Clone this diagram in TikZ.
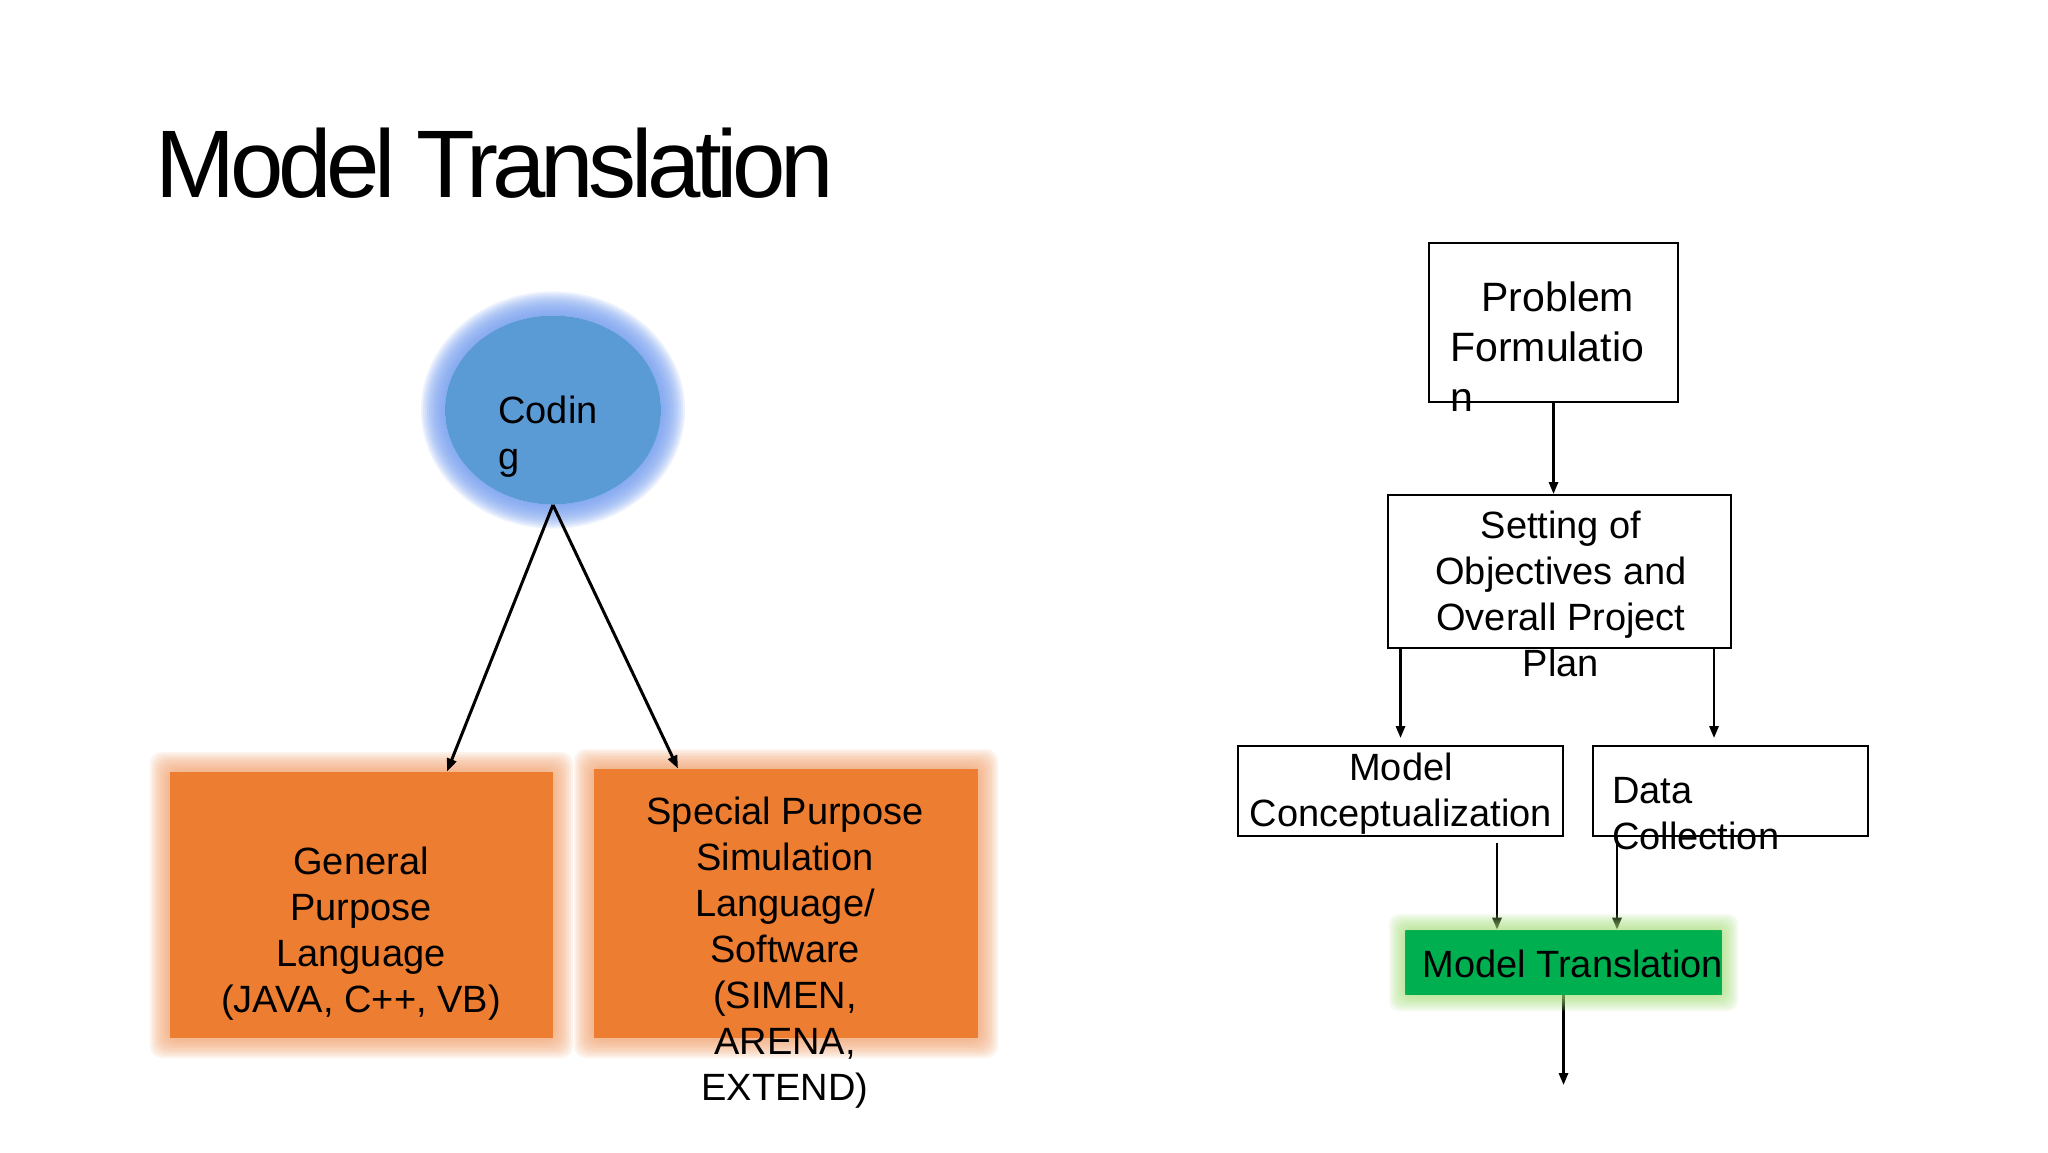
\documentclass[tikz,border=0pt]{standalone}
\usepackage{fontspec}
\setmainfont{Liberation Sans}
\newfontfamily\titlefont{Liberation Sans}[LetterSpace=-5.6]
\usetikzlibrary{shapes.geometric,arrows.meta,calc}
\definecolor{codblue}{HTML}{5B9BD5}
\definecolor{blueglow}{HTML}{7AA2F2}
\definecolor{orng}{HTML}{ED7D31}
\definecolor{orangeglow}{HTML}{F3A36E}
\definecolor{grn}{HTML}{00B050}
\definecolor{greenglow}{HTML}{A6DF78}
\begin{document}
\begin{tikzpicture}[x=0.5pt,y=-0.5pt,
  txt/.style={inner sep=0pt, font=\fontsize{19}{23}\selectfont},
  flowbox/.style={draw=black, line width=1pt, fill=white, inner sep=0pt},
  colbox/.style={inner sep=0pt, draw=none},
  arrA/.style={line width=1.5pt, -{Triangle[length=6.5pt,width=4.8pt]}},
  arrB/.style={line width=1.2pt, -{Triangle[length=6pt,width=4.6pt]}}]
\useasboundingbox[fill=white] (0,0) rectangle (2048,1152);

% title
\node[anchor=base west, inner sep=0pt, font=\titlefont\fontsize{48}{58}\selectfont] (title) at (155,197) {Model Translation};

% glows (blue, orange)
\foreach \gl in {2,4,...,24}{
  \fill[blueglow, opacity=0.15, even odd rule] (553,410) ellipse [x radius={54pt+\gl*0.5pt}, y radius={47.25pt+\gl*0.5pt}] (553,410) ellipse [x radius=54pt, y radius=47.25pt];
}
\foreach \gl in {2,4,...,20}{
  \fill[orangeglow, opacity=0.12, even odd rule] [rounded corners=6pt] ({170-\gl},{772-\gl}) rectangle ({553+\gl},{1038+\gl}) [sharp corners] (170,772) rectangle (553,1038);
  \fill[orangeglow, opacity=0.12, even odd rule] [rounded corners=6pt] ({594-\gl},{769-\gl}) rectangle ({978+\gl},{1038+\gl}) [sharp corners] (594,769) rectangle (978,1038);
}

% left diagram
\node[ellipse, fill=codblue, minimum width=108pt, minimum height=94.5pt, inner sep=0pt] (coding) at (553,410) {};
\node[txt, anchor=north west, align=left] (codingtxt) at (498,396) {Codin\\g};

\node[colbox, fill=orng, minimum width=191.5pt, minimum height=133pt] (gpl) at (361.5,905) {};
\node[colbox, fill=orng, minimum width=192pt, minimum height=134.5pt] (spl) at (786,903.5) {};
\node[txt, anchor=north, align=center] (gpltxt) at (361,847) {General\\Purpose\\Language\\(JAVA, C++, VB)};
\node[txt, anchor=north, align=center] (spltxt) at (785,797) {Special Purpose\\Simulation\\Language/\\Software\\(SIMEN,\\ARENA,\\EXTEND)};

\draw[arrA] (coding.south) -- ([xshift=42.75pt]gpl.north);
\draw[arrA] (coding.south) -- ([xshift=-54pt]spl.north);

% right diagram
\node[flowbox, minimum width=124.5pt, minimum height=79.5pt] (pf) at (1553.5,322.5) {};
\node[flowbox, minimum width=171.5pt, minimum height=76.5pt] (sop) at (1559.5,571.5) {};
\node[flowbox, minimum width=162.5pt, minimum height=45pt] (mc) at (1400.5,791) {};
\node[flowbox, minimum width=137.5pt, minimum height=45pt] (dc) at (1730.5,791) {};
\node[colbox, fill=grn, minimum width=158.5pt, minimum height=32.5pt] (mt) at (1563.5,962.5) {};
\coordinate (mtout) at (1563.5,1085);

\node[anchor=north west, align=left, inner sep=0pt, font=\fontsize{20.5}{25}\selectfont] (pftxt) at (1450,281) {\hspace*{15.5pt}Problem\\Formulatio\\n};
\node[txt, anchor=north, align=center] (soptxt) at (1561,511) {Setting of\\Objectives and\\Overall Project\\Plan};
\node[txt, anchor=north, align=center] (mctxt) at (1401,753) {Model\\Conceptualization};
\node[txt, anchor=north west, align=left] (dctxt) at (1612,777) {Data\\Collection};
\node[txt, anchor=north west] (mttxt) at (1422,950) {Model Translation};

\draw[arrB] (pf.south) -- (pf.south |- sop.north);
\draw[arrB] (sop.south -| mc.north) -- ([yshift=3.5pt]mc.north);
\draw[arrB] ([xshift=-8.25pt]dc.north |- sop.south) -- ([xshift=-8.25pt,yshift=3.5pt]dc.north);
\draw[arrB] ([xshift=48.25pt,yshift=-3pt]mc.south) -- ([xshift=-33.25pt]mt.north);
\draw[arrB] ([xshift=-56.75pt]dc.south) -- ([xshift=26.75pt]mt.north);
\draw[arrB] (mt.south) -- (mtout);

% green glow over arrow tips
\foreach \gl in {2,4,...,16}{
  \fill[greenglow, opacity=0.12, even odd rule] [rounded corners=5pt] ({1405-\gl},{930-\gl}) rectangle ({1722+\gl},{995+\gl}) [sharp corners] (1405,930) rectangle (1722,995);
}
\end{tikzpicture}
\end{document}
